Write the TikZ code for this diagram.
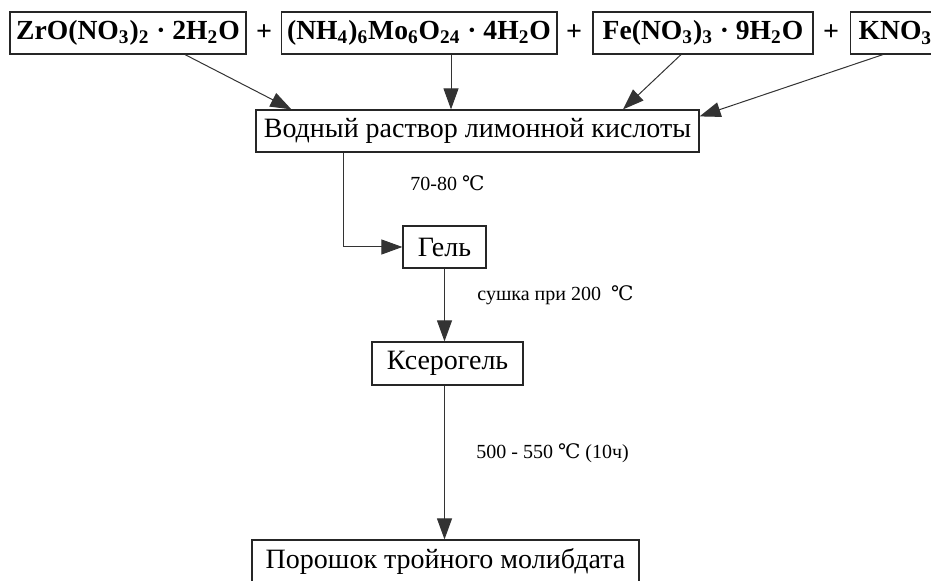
\documentclass[tikz,border=0pt]{standalone}
\usepackage{fontspec}
\setmainfont{Liberation Serif}
\newfontfamily\degfont{DejaVu Serif}
\usetikzlibrary{arrows.meta,calc}
\newcommand{\degC}{{\degfont ℃}}
\newcommand{\sub}[1]{\textsubscript{#1}}

\tikzset{
    box/.style={draw=black!85, line width=0.6pt, minimum height=21pt, inner xsep=3pt,
        font=\fontsize{14}{16}\selectfont},
    formula/.style={box, font=\fontsize{13.8}{16}\selectfont\bfseries},
    plus/.style={font=\fontsize{14}{16}\selectfont\bfseries},
    cond/.style={anchor=west, inner sep=0pt, font=\fontsize{10}{12}\selectfont},
    arr/.style={draw=black!80, line width=0.5pt, -{Triangle[length=10.5pt,width=7.5pt]}}
}

\begin{document}
\begin{tikzpicture}[x=0.5pt, y=-0.5pt]
\useasboundingbox (0,0) rectangle (931,581);
\clip (0,0) rectangle (931,581);

% starting salts
\node[formula, minimum width=118pt] (zr) at (128,33) {ZrO(NO\sub{3})\sub{2} · 2H\sub{2}O};
\node[formula, minimum width=137pt] (mo) at (419,33) {(NH\sub{4})\sub{6}Mo\sub{6}O\sub{24} · 4H\sub{2}O};
\node[formula, minimum width=110pt] (fe) at (703,33) {Fe(NO\sub{3})\sub{3} · 9H\sub{2}O};
\node[formula, anchor=west, inner xsep=4pt] (kno) at (850,33) {KNO\sub{3}};

\foreach \x in {264,574,831}{
    \node[plus] (plus\x) at (\x,33) {+};
}

% process steps
\node[box, minimum width=221.5pt] (sol) at (477.5,131) {Водный раствор лимонной кислоты};
\node[box, minimum width=41.5pt] (gel) at (444.5,247) {Гель};
\node[box, minimum width=75.5pt, minimum height=21.5pt] (xer) at (447.5,363.5) {Ксерогель};
\node[box, minimum width=193.5pt] (por) at (445.5,561) {Порошок тройного молибдата};

% conditions
\node[cond] (t1) at (410,183) {70-80 \degC};
\node[cond] (t2) at (477,295) {сушка при 200 \ \degC};
\node[cond] (t3) at (476,453) {500 - 550 \degC{} (10ч)};

% connectors
\draw[arr] ($(zr.south)+(57,0)$) -- ($(sol.north west)+(36,0)$);
\draw[arr] ($(mo.south)+(32,0)$) -- ($(sol.north)+(-26.5,0)$);
\draw[arr] ($(fe.south)+(-22,0)$) -- ($(sol.north)+(145.5,0)$);
\draw[arr] ($(kno.south west)+(33,0)$) -- ($(sol.north east)+(0,7)$);
\draw[arr] ($(sol.south)+(-134.5,0)$) |- (gel.west);
\draw[arr] (gel.south) -- (gel.south |- xer.north);
\draw[arr] (xer.south -| gel.south) -- (gel.south |- por.north);

\end{tikzpicture}
\end{document}
